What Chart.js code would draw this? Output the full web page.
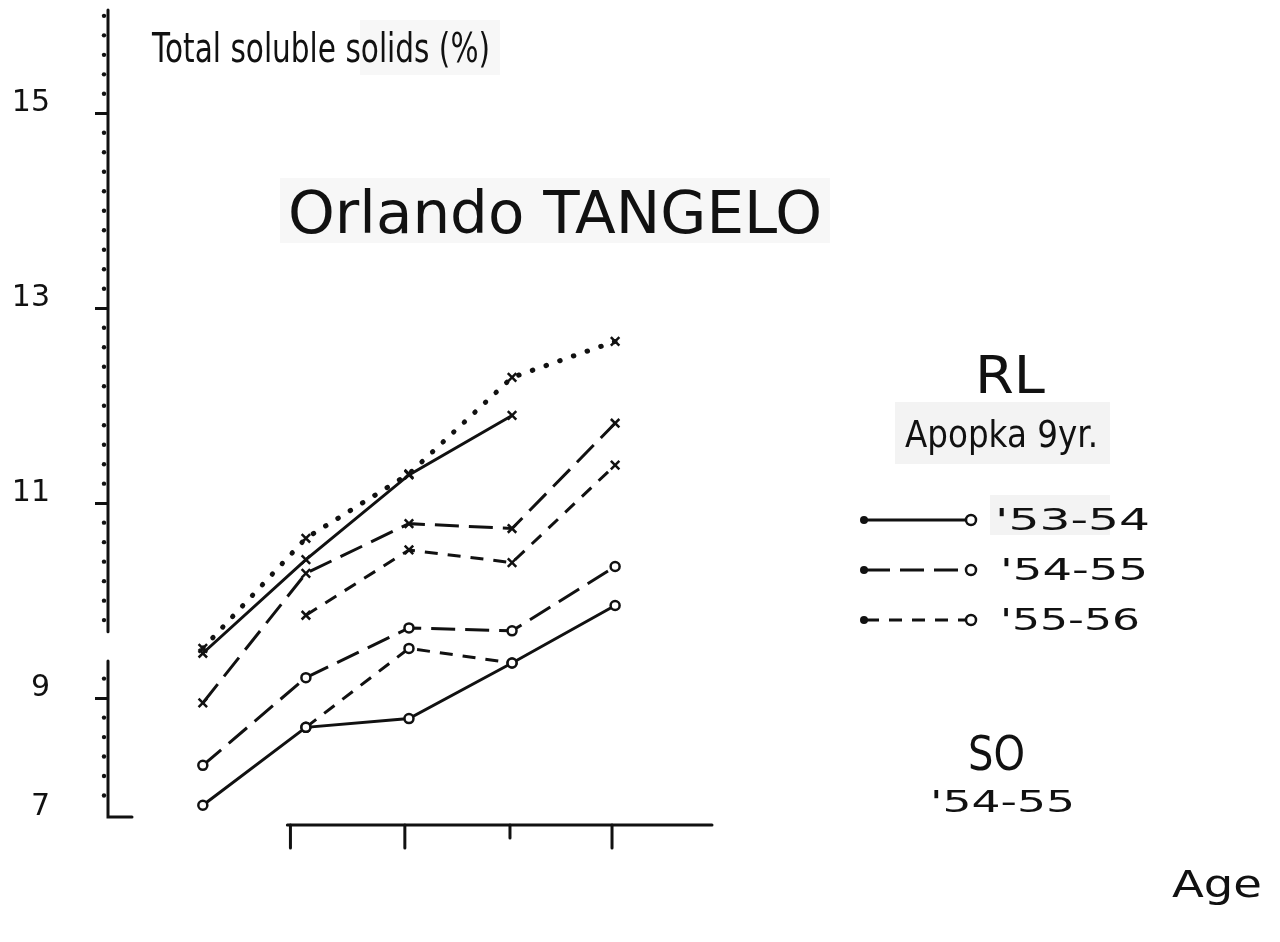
<!DOCTYPE html>
<html>
<head>
<meta charset="utf-8">
<script src="https://cdn.jsdelivr.net/npm/chart.js@4.4.1/dist/chart.umd.min.js"></script>
<style>
html,body{margin:0;padding:0;background:#fff;}
#wrap{width:1280px;height:942px;position:relative;}
canvas{display:block;}
</style>
</head>
<body>
<div id="wrap"><canvas id="c" width="1280" height="942"></canvas></div>
<script>
// ---- data ----
const ages = [0, 1, 2, 3, 4];                 // sampling dates along the Age axis
const ageTicks = [0.85, 1.96, 2.98, 3.97];    // tick marks drawn on the Age axis
const yTickValues = [7.78, 9, 11, 13, 15];    // bottom of the (broken) axis is labelled 7
const yTickLabels = ['7', '9', '11', '13', '15'];

// "x"-marker curves
const crossSolid  = [9.46, 10.42, 11.29, 11.90, null];
const crossLong   = [8.95, 10.28, 10.79, 10.74, 11.82];
const crossShort  = [null, 9.85, 10.52, 10.39, 11.39];
const crossDotted = [9.51, 10.64, 11.30, 12.29, 12.66];
// "o"-marker curves
const circleSolid = [7.90, 8.70, 8.79, 9.36, 9.95];
const circleLong  = [8.31, 9.21, 9.72, 9.69, 10.35];
const circleShort = [null, 8.70, 9.51, 9.36, null];

const Y_MIN = 7.78, Y_MAX = 16.06;
const X_MIN = -0.92, X_MAX = 4.94;
const axisBreak = [9.38, 9.68];

function pts(arr) {
  return arr.map((v, i) => v == null ? null : { x: ages[i], y: v }).filter(p => p);
}

const INK = '#111';
const LONG = [24, 10], SHORT = [13, 10], DOTS = [0.5, 14];

function crossDs(label, arr, dash, extra) {
  return Object.assign({
    label, data: pts(arr), borderColor: INK, borderWidth: 3, borderDash: dash,
    pointStyle: 'crossRot', pointRadius: 6, pointBorderWidth: 2.5,
    pointBorderColor: INK, pointBackgroundColor: INK, tension: 0, fill: false
  }, extra || {});
}
function circleDs(label, arr, dash) {
  return {
    label, data: pts(arr), borderColor: INK, borderWidth: 3, borderDash: dash,
    pointStyle: 'circle', pointRadius: 4.5, pointBorderWidth: 2.5,
    pointBorderColor: INK, pointBackgroundColor: '#fff', tension: 0, fill: false
  };
}

const datasets = [
  crossDs("x '53-54", crossSolid, []),
  crossDs("x '54-55", crossLong, LONG),
  crossDs("x '55-56", crossShort, SHORT),
  crossDs("SO '54-55", crossDotted, DOTS, { borderWidth: 5, borderCapStyle: 'round' }),
  circleDs("RL '53-54", circleSolid, []),
  circleDs("RL '54-55", circleLong, LONG),
  circleDs("RL '55-56", circleShort, SHORT)
];

const FONT = "'DejaVu Sans', 'Liberation Sans', sans-serif";

function fitText(ctx, text, x0, x1, baseline, size) {
  ctx.save();
  ctx.font = size + 'px ' + FONT;
  ctx.fillStyle = INK;
  ctx.textAlign = 'left';
  ctx.textBaseline = 'alphabetic';
  const w = ctx.measureText(text).width;
  ctx.translate(x0, baseline);
  ctx.scale((x1 - x0) / w, 1);
  ctx.fillText(text, 0, 0);
  ctx.restore();
}

const decor = {
  id: 'decor',
  beforeDraw(chart) {
    const ctx = chart.ctx;
    ctx.save();
    ctx.fillStyle = '#f3f3f3';
    ctx.fillRect(895, 402, 215, 62);
    ctx.fillRect(990, 495, 120, 40);
    ctx.fillStyle = '#f7f7f7';
    ctx.fillRect(360, 20, 140, 55);
    ctx.fillRect(280, 178, 550, 65);
    ctx.restore();
  },
  afterDraw(chart) {
    const ctx = chart.ctx;
    const ys = chart.scales.y, xs = chart.scales.x;
    const a = chart.chartArea;
    const L = a.left;
    ctx.save();
    ctx.strokeStyle = INK;
    ctx.fillStyle = INK;
    ctx.lineCap = 'round';
    // y axis with a break
    ctx.lineWidth = 3;
    ctx.beginPath();
    ctx.moveTo(L, a.top);
    ctx.lineTo(L, ys.getPixelForValue(axisBreak[1]));
    ctx.moveTo(L, ys.getPixelForValue(axisBreak[0]));
    ctx.lineTo(L, a.bottom);
    ctx.lineTo(L + 24, a.bottom);
    ctx.stroke();
    // minor tick dots every 0.2
    for (let k = Math.ceil(Y_MIN * 5) + 1; k <= Math.floor(Y_MAX * 5); k++) {
      const v = k / 5;
      if (k % 10 === 5 || (v > axisBreak[0] - 0.05 && v < axisBreak[1] + 0.05)) continue;
      const py = ys.getPixelForValue(v);
      ctx.beginPath();
      ctx.arc(L - 4, py, 2.2, 0, Math.PI * 2);
      ctx.fill();
    }
    // Age axis
    const ay = a.bottom + 8;
    ctx.lineWidth = 3;
    ctx.beginPath();
    ctx.moveTo(xs.getPixelForValue(0.82), ay);
    ctx.lineTo(a.right, ay);
    ctx.stroke();
    ageTicks.forEach((t, i) => {
      const px = xs.getPixelForValue(t);
      ctx.beginPath();
      ctx.moveTo(px, ay);
      ctx.lineTo(px, ay + (i === 2 ? 13 : 23));
      ctx.stroke();
    });
    ctx.restore();

    // texts
    fitText(ctx, 'Total soluble solids (%)', 152, 490, 62, 40);
    fitText(ctx, 'Orlando TANGELO', 288, 822, 233, 58);
    fitText(ctx, 'RL', 975, 1045, 393, 52);
    fitText(ctx, 'Apopka 9yr.', 905, 1098, 447, 38);
    fitText(ctx, "'53-54", 995, 1150, 530, 31);
    fitText(ctx, "'54-55", 1000, 1148, 580, 31);
    fitText(ctx, "'55-56", 1000, 1140, 630, 31);
    fitText(ctx, 'SO', 968, 1025, 770, 48);
    fitText(ctx, "'54-55", 930, 1075, 812, 31);
    fitText(ctx, 'Age', 1172, 1262, 897, 38);

    // legend samples
    const rows = [[520, []], [570, LONG], [620, SHORT]];
    rows.forEach(([y, dash]) => {
      ctx.save();
      ctx.strokeStyle = INK;
      ctx.lineWidth = 3;
      ctx.setLineDash(dash);
      ctx.beginPath();
      ctx.moveTo(866, y);
      ctx.lineTo(966, y);
      ctx.stroke();
      ctx.setLineDash([]);
      ctx.fillStyle = INK;
      ctx.beginPath(); ctx.arc(864, y, 4, 0, Math.PI * 2); ctx.fill();
      ctx.fillStyle = '#fff';
      ctx.lineWidth = 2.5;
      ctx.beginPath(); ctx.arc(971, y, 5, 0, Math.PI * 2); ctx.fill(); ctx.stroke();
      ctx.restore();
    });
  }
};

new Chart(document.getElementById('c'), {
  type: 'line',
  data: { datasets },
  options: {
    responsive: false,
    animation: false,
    devicePixelRatio: 1,
    layout: { padding: { top: 10, right: 568, bottom: 0, left: 0 } },
    plugins: { legend: { display: false }, tooltip: { enabled: false }, title: { display: false } },
    scales: {
      x: {
        type: 'linear', min: X_MIN, max: X_MAX,
        border: { display: false },
        grid: { display: false },
        ticks: { display: false },
        afterFit(s) { s.height = 125; s.paddingLeft = 0; s.paddingRight = 0; }
      },
      y: {
        type: 'linear', min: Y_MIN, max: Y_MAX,
        border: { display: false },
        afterBuildTicks(s) { s.ticks = yTickValues.map(v => ({ value: v })); },
        afterFit(s) { s.width = 108; s.paddingTop = 0; s.paddingBottom = 0; },
        grid: {
          drawOnChartArea: false, drawTicks: true, tickLength: 13,
          tickColor: (c) => c.index === 0 ? 'rgba(0,0,0,0)' : INK,
          tickWidth: 3
        },
        ticks: {
          font: { family: FONT, size: 30 },
          color: INK, padding: 45, labelOffset: -10,
          callback: (v, i) => yTickLabels[i]
        }
      }
    }
  },
  plugins: [decor]
});
</script>
</body>
</html>
